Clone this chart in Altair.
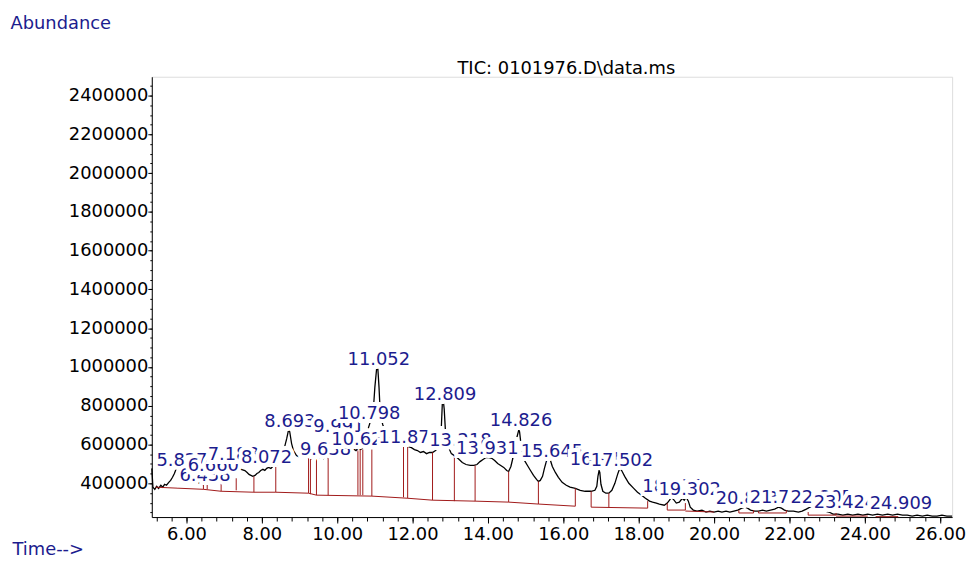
import altair as alt
import pandas as pd

# ---------------- data ----------------
trace_time = [5.08, 5.11, 5.16, 5.21, 5.26, 5.32, 5.37, 5.42, 5.47, 5.53, 5.58, 5.63, 5.68, 5.74, 5.82, 5.87, 5.95, 6.03,
              6.11, 6.16, 6.21, 6.26, 6.32, 6.37, 6.42, 6.47, 6.53, 6.58, 6.63, 6.68, 6.82, 6.97, 7.13, 7.29, 7.45,
              7.55, 7.61, 7.66, 7.71, 7.76, 7.82, 7.87, 7.92, 7.97, 8.03, 8.08, 8.13, 8.18, 8.24, 8.29, 8.34, 8.39,
              8.50, 8.58, 8.66, 8.71, 8.74, 8.79, 8.84, 8.92, 8.97, 9.05, 9.11, 9.16, 9.21, 9.26, 9.32, 9.37, 9.42,
              9.47, 9.53, 9.58, 9.63, 9.68, 9.74, 9.82, 9.89, 9.97, 10.03, 10.11, 10.21, 10.32, 10.42, 10.50, 10.55,
              10.61, 10.66, 10.71, 10.76, 10.82, 10.87, 10.92, 10.97, 11.00, 11.05, 11.08, 11.11, 11.13, 11.16, 11.21,
              11.29, 11.39, 11.50, 11.58, 11.66, 11.74, 11.82, 11.89, 11.97, 12.05, 12.13, 12.21, 12.29, 12.37, 12.45,
              12.53, 12.61, 12.68, 12.76, 12.79, 12.82, 12.84, 12.87, 12.92, 12.97, 13.03, 13.11, 13.21, 13.32, 13.42,
              13.53, 13.63, 13.71, 13.79, 13.87, 13.95, 14.03, 14.11, 14.18, 14.26, 14.34, 14.42, 14.50, 14.55, 14.61,
              14.66, 14.71, 14.76, 14.82, 14.84, 14.87, 14.92, 14.97, 15.05, 15.13, 15.21, 15.29, 15.34, 15.39, 15.45,
              15.50, 15.55, 15.61, 15.66, 15.71, 15.79, 15.87, 15.97, 16.08, 16.18, 16.32, 16.45, 16.58, 16.74, 16.84,
              16.89, 16.92, 16.95, 16.97, 17.00, 17.05, 17.13, 17.21, 17.29, 17.37, 17.45, 17.50, 17.55, 17.63, 17.74,
              17.87, 17.97, 18.08, 18.18, 18.29, 18.37, 18.47, 18.55, 18.68, 18.76, 18.82, 18.87, 18.92, 19.00, 19.08,
              19.16, 19.21, 19.26, 19.32, 19.37, 19.45, 19.55, 19.68, 19.79, 19.89, 20.00, 20.11, 20.21, 20.32, 20.42,
              20.53, 20.63, 20.74, 20.82, 20.89, 20.97, 21.08, 21.18, 21.29, 21.39, 21.50, 21.61, 21.71, 21.79, 21.87,
              21.97, 22.11, 22.24, 22.34, 22.45, 22.55, 22.63, 22.71, 22.79, 22.87, 22.95, 23.05, 23.16, 23.29, 23.42,
              23.55, 23.68, 23.82, 23.95, 24.08, 24.21, 24.34, 24.47, 24.61, 24.74, 24.87, 25.00, 25.13, 25.26, 25.39,
              25.53, 25.66, 25.79, 25.92, 26.05, 26.18, 26.32]
trace_abundance = [477000, 380000, 369000, 385000, 374000, 390000, 380000, 395000, 390000, 405000, 415000, 431000,
                   451000, 482000, 512000, 533000, 502000, 466000, 436000, 426000, 415000, 410000, 400000, 405000,
                   395000, 405000, 410000, 420000, 431000, 441000, 461000, 472000, 477000, 477000, 472000, 466000,
                   456000, 446000, 441000, 436000, 441000, 451000, 456000, 466000, 472000, 466000, 477000, 482000,
                   477000, 487000, 487000, 492000, 518000, 569000, 630000, 676000, 666000, 605000, 569000, 543000,
                   538000, 543000, 533000, 543000, 533000, 538000, 528000, 538000, 533000, 543000, 533000, 538000,
                   528000, 538000, 533000, 548000, 584000, 625000, 640000, 610000, 579000, 574000, 579000, 569000,
                   579000, 574000, 579000, 589000, 630000, 681000, 712000, 758000, 809000, 896000, 998000, 988000,
                   896000, 814000, 743000, 702000, 661000, 630000, 605000, 599000, 605000, 594000, 599000, 589000,
                   584000, 574000, 569000, 559000, 564000, 553000, 559000, 559000, 569000, 584000, 671000, 809000,
                   819000, 783000, 681000, 630000, 579000, 553000, 543000, 528000, 507000, 497000, 492000, 492000,
                   497000, 512000, 523000, 533000, 533000, 528000, 518000, 502000, 492000, 482000, 466000, 461000,
                   487000, 528000, 579000, 630000, 676000, 666000, 615000, 553000, 518000, 492000, 466000, 441000,
                   420000, 410000, 415000, 436000, 477000, 512000, 528000, 518000, 487000, 456000, 431000, 405000,
                   390000, 380000, 374000, 364000, 359000, 359000, 364000, 385000, 436000, 466000, 456000, 395000,
                   359000, 349000, 349000, 364000, 400000, 451000, 477000, 466000, 436000, 400000, 374000, 354000,
                   339000, 323000, 308000, 303000, 298000, 293000, 287000, 298000, 313000, 328000, 318000, 298000,
                   303000, 323000, 313000, 328000, 308000, 277000, 262000, 257000, 262000, 252000, 257000, 252000,
                   257000, 252000, 257000, 252000, 257000, 262000, 272000, 277000, 272000, 262000, 257000, 257000,
                   262000, 257000, 262000, 267000, 277000, 272000, 262000, 257000, 257000, 252000, 257000, 267000,
                   277000, 282000, 282000, 277000, 267000, 257000, 252000, 241000, 241000, 236000, 241000, 236000,
                   241000, 236000, 241000, 236000, 241000, 236000, 241000, 236000, 241000, 236000, 236000, 231000,
                   236000, 231000, 236000, 231000, 231000, 236000, 231000, 231000]

# integration drop lines: time, trace level, baseline level
drop_time = [6.45, 6.55, 6.92, 7.32, 7.79, 8.37, 9.24, 9.29, 9.45, 9.76, 10.55, 10.61, 10.68, 10.92, 11.76, 11.87,
             12.53, 13.11, 13.66, 14.55, 15.34, 16.32, 16.74, 17.21, 18.24, 18.76, 19.24, 20.66, 21.05, 21.18,
             21.92, 22.50, 23.24]
drop_top = [426000, 426000, 426000, 426000, 436000, 487000, 538000, 538000, 538000, 533000, 574000, 574000, 574000,
            574000, 594000, 594000, 559000, 543000, 492000, 461000, 410000, 374000, 359000, 349000, 308000, 298000,
            298000, 262000, 262000, 257000, 262000, 252000, 247000]
drop_base = [369000, 369000, 359000, 364000, 354000, 354000, 349000, 344000, 339000, 339000, 339000, 339000,
             339000, 334000, 328000, 323000, 313000, 308000, 308000, 303000, 293000, 282000, 277000, 277000,
             272000, 262000, 262000, 247000, 247000, 247000, 247000, 236000, 236000]

# baseline segments
seg_t1 = [5.18, 6.45, 6.92, 7.79, 8.37, 9.24, 9.45, 10.92, 11.87, 12.53, 13.66, 14.55, 15.34, 16.74, 18.76, 19.24,
          20.66, 21.18, 22.50, 23.24, 24.29]
seg_v1 = [380000, 369000, 359000, 354000, 354000, 349000, 339000, 334000, 323000, 313000, 308000, 303000, 293000,
          277000, 262000, 257000, 247000, 247000, 236000, 231000, 228000]
seg_t2 = [6.45, 6.92, 7.79, 8.37, 9.24, 9.45, 10.92, 11.87, 12.53, 13.66, 14.55, 15.34, 16.32, 18.24, 19.24, 20.00,
          21.05, 21.92, 23.24, 24.08, 24.89]
seg_v2 = [369000, 359000, 354000, 354000, 349000, 339000, 334000, 323000, 313000, 308000, 303000, 293000, 282000,
          272000, 262000, 252000, 247000, 247000, 236000, 231000, 228000]

# peak labels (retention time text) and the abundance of their baseline
peak_labels = ["5.827", "6.438", "6.660", "7.188", "8.072", "8.693", "9.638", "9.991", "10.621", "10.798",
               "11.052", "11.875", "12.809", "13.218", "13.931", "14.826", "15.645", "16.945", "17.502", "18.875",
               "19.302", "20.823", "21.723", "22.805", "23.424", "24.909"]
label_level = [487000, 410000, 461000, 518000, 507000, 692000, 548000, 666000, 599000, 732000, 1009000, 610000,
               830000, 594000, 553000, 697000, 538000, 497000, 487000, 354000, 339000, 293000, 298000, 298000,
               272000, 267000]

y_major = [400000, 600000, 800000, 1000000, 1200000, 1400000, 1600000, 1800000, 2000000, 2200000, 2400000]
x_major = [6, 8, 10, 12, 14, 16, 18, 20, 22, 24, 26]
chart_title = ["TIC: 0101976.D\\data.ms"]

# ---------------- chart ----------------
FONT = "DejaVu Sans"
NAVY = "#1c1c8e"
RED = "#a01818"

trace = pd.DataFrame({"t": trace_time, "v": trace_abundance})
drops = pd.DataFrame({"t": drop_time, "top": drop_top, "base": drop_base})
segs = pd.DataFrame({"t1": seg_t1, "v1": seg_v1, "t2": seg_t2, "v2": seg_v2})
labels = pd.DataFrame({"label": peak_labels, "t": [float(s) for s in peak_labels], "v": label_level,
                       "i": list(range(len(peak_labels)))})
title_df = pd.DataFrame({"s": chart_title})

xs = alt.Scale(domain=[5.08, 26.32], nice=False, zero=False)
ys = alt.Scale(domain=[226000, 2497000], nice=False, zero=False)

x_minor = [round(5.2 + 0.4 * k, 1) for k in range(53)]
y_minor = [250000 + 50000 * k for k in range(45)]

x_axis = alt.Axis(values=x_major, format=".2f", tickSize=6, labelPadding=3, labelFont=FONT, labelFontSize=18,
                  labelColor="black", domainColor="black", tickColor="black", grid=False, labelOverlap=False,
                  labelFlush=False, title="Time-->", titleX=-141, titleY=38, titleAlign="left", titleAngle=0,
                  titleBaseline="alphabetic", titleFont=FONT, titleFontSize=18, titleFontWeight="normal",
                  titleColor=NAVY, orient="bottom")
y_axis = alt.Axis(values=y_major, format="d", tickSize=4, labelPadding=0, labelFont=FONT, labelFontSize=18,
                  labelColor="black", domainColor="black", tickColor="black", grid=False, labelOverlap=False,
                  labelFlush=False, title="Abundance", titleX=-143, titleY=-49, titleAlign="left", titleAngle=0,
                  titleBaseline="alphabetic", titleFont=FONT, titleFontSize=18, titleFontWeight="normal",
                  titleColor=NAVY, orient="left")
x_axis_minor = alt.Axis(values=x_minor, labels=False, domain=False, tickSize=4, tickColor="black", grid=False,
                        title=None, orient="bottom")
y_axis_minor = alt.Axis(values=y_minor, labels=False, domain=False, tickSize=2, tickColor="black", grid=False,
                        title=None, orient="left")

line = alt.Chart(trace).mark_line(color="black", strokeWidth=1.3).encode(
    x=alt.X("t:Q", scale=xs, axis=x_axis),
    y=alt.Y("v:Q", scale=ys, axis=y_axis),
)

base_segs = alt.Chart(segs).mark_rule(color=RED, strokeWidth=1).encode(
    x=alt.X("t1:Q", scale=xs, axis=x_axis_minor),
    x2="t2:Q",
    y=alt.Y("v1:Q", scale=ys, axis=y_axis_minor),
    y2="v2:Q",
)

drop_rules = alt.Chart(drops).mark_rule(color=RED, strokeWidth=1).encode(
    x=alt.X("t:Q", scale=xs, axis=None),
    y=alt.Y("top:Q", scale=ys, axis=None),
    y2="base:Q",
)

title_mark = alt.Chart(title_df).mark_text(font=FONT, fontSize=18, align="center", baseline="alphabetic",
                                           color="black").encode(
    x=alt.value(418), y=alt.value(-3), text="s:N"
)

layers = [line, base_segs, drop_rules, title_mark]
for k in range(len(peak_labels)):
    sub = alt.Chart(labels).transform_filter(alt.datum.i == k)
    enc = dict(x=alt.X("t:Q", scale=xs, axis=None), y=alt.Y("v:Q", scale=ys, axis=None), text="label:N")
    halo = sub.mark_text(font=FONT, fontSize=18, align="center", baseline="alphabetic", dx=2,
                         fill="white", stroke="white", strokeWidth=8).encode(**enc)
    txt = sub.mark_text(font=FONT, fontSize=18, align="center", baseline="alphabetic", dx=2,
                        color=NAVY).encode(**enc)
    layers += [halo, txt]

chart = alt.layer(*layers).resolve_axis(x="independent", y="independent").properties(
    width=807,
    height=444,
    padding={"left": 145, "top": 67, "right": 15, "bottom": 40},
    autosize=alt.AutoSizeParams(type="none"),
).configure_view(stroke=None).configure(background="white")

chart.save("out.html", embed_options={"renderer": "svg", "actions": False})
